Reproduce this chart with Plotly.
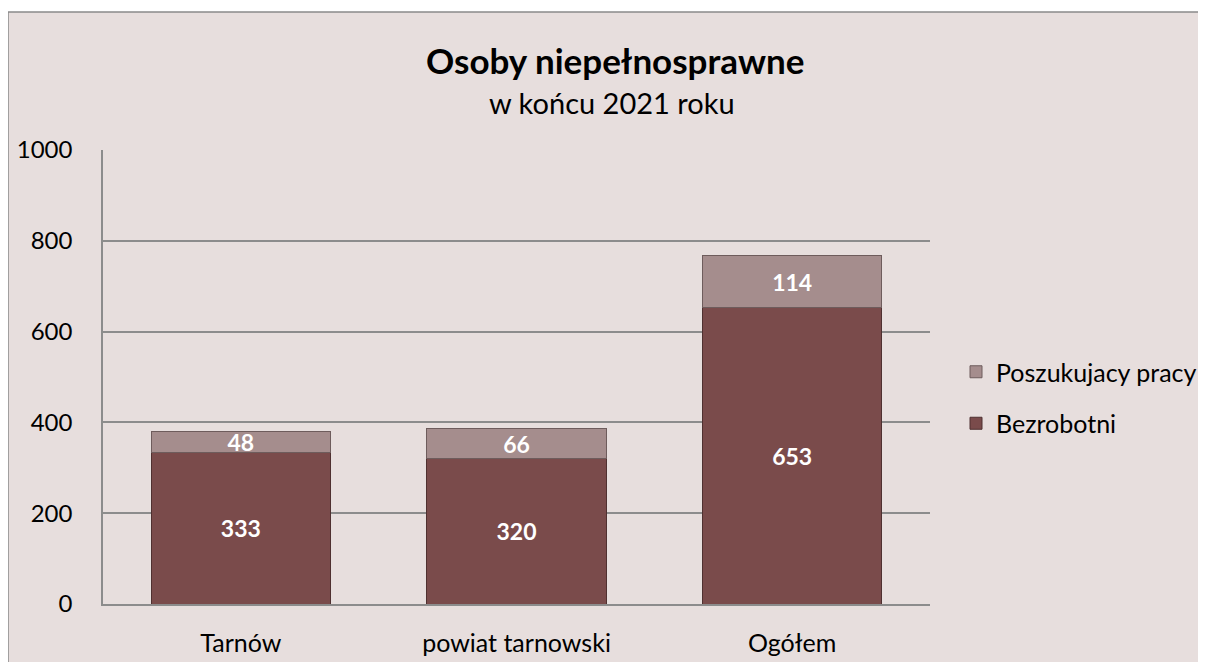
import plotly.graph_objects as go

categories = ["Tarnów", "powiat tarnowski", "Ogółem"]
bezrobotni = [333, 320, 653]
poszukujacy = [48, 66, 114]
y_ticks = [0, 200, 400, 600, 800, 1000]

FONT = "Lato, 'Open Sans', sans-serif"

# the page has an 8px body margin; work in window pixels and shift
OFF = 8
W, H = 1206 - OFF, 662 - OFF
L, R, T, B = 103 - OFF, 930 - OFF, 150 - OFF, 604 - OFF


def px_x(p):
    return (p - OFF - L) / (R - L)


def px_y(p):
    return (B - (p - OFF)) / (B - T)


fig = go.Figure()
fig.add_trace(go.Bar(
    x=categories, y=bezrobotni, name="Bezrobotni",
    marker=dict(color="#7a4b4b", line=dict(color="#4f3030", width=1)),
    text=bezrobotni, textposition="inside", insidetextanchor="middle",
    constraintext="none", textangle=0,
    textfont=dict(color="white", size=23, family=FONT, weight="bold"),
    legendgroup="b", legendrank=2,
))
fig.add_trace(go.Bar(
    x=categories, y=poszukujacy, name="Poszukujacy pracy",
    marker=dict(color="#a58d8d", line=dict(color="#6e5c5c", width=1)),
    text=poszukujacy, textposition="inside", insidetextanchor="middle",
    constraintext="none", textangle=0,
    textfont=dict(color="white", size=23, family=FONT, weight="bold"),
    legendgroup="p", legendrank=1,
))

fig.update_layout(
    width=W, height=H,
    barmode="stack", bargap=0.35,
    paper_bgcolor="white", plot_bgcolor="#e7dedd",
    margin=dict(l=L, r=W - R, t=T, b=H - B, pad=0, autoexpand=False),
    font=dict(family=FONT, size=25, color="black"),
    showlegend=True,
    legend=dict(x=px_x(956), y=px_y(349), xanchor="left", yanchor="top",
                traceorder="grouped", tracegroupgap=16,
                font=dict(size=25, family=FONT), bgcolor="rgba(0,0,0,0)"),
    uniformtext=dict(minsize=23, mode="show"),
)

# chart box background with border (right/bottom edges run off the page)
fig.add_shape(type="rect", xref="paper", yref="paper",
              x0=px_x(8), x1=px_x(1230), y0=px_y(690), y1=px_y(12),
              fillcolor="#e7dedd", line=dict(color="#8a8a8a", width=1.5),
              layer="below")

fig.add_annotation(text="<b>Osoby niepełnosprawne</b>", xref="paper", yref="paper",
                   x=px_x(615), y=px_y(60), xanchor="center", yanchor="middle",
                   showarrow=False,
                   font=dict(size=35, family=FONT, color="black"))
fig.add_annotation(text="w końcu 2021 roku", xref="paper", yref="paper",
                   x=px_x(612), y=px_y(103), xanchor="center", yanchor="middle",
                   showarrow=False,
                   font=dict(size=29, family=FONT, color="black"))

fig.update_xaxes(showgrid=False, showline=True, linecolor="#8c8c8c", linewidth=1.5,
                 ticks="", tickfont=dict(size=25), ticklabelstandoff=16,
                 automargin=False)
fig.update_yaxes(range=[0, 1000], tickvals=y_ticks, showgrid=True,
                 gridcolor="#8c8c8c", gridwidth=1.5, showline=True,
                 linecolor="#8c8c8c", linewidth=1.5, zeroline=False,
                 ticks="", tickfont=dict(size=24), ticklabelstandoff=24,
                 automargin=False)

fig.write_html("out.html", config={"displayModeBar": False})
